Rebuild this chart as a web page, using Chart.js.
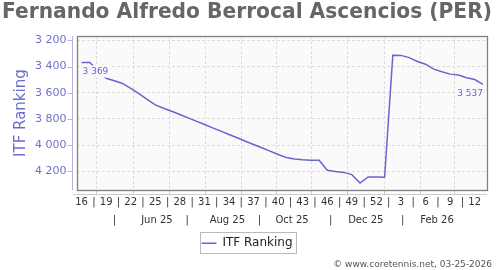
<!DOCTYPE html>
<html><head><meta charset="utf-8">
<script src="https://cdn.jsdelivr.net/npm/chart.js@4.4.1/dist/chart.umd.min.js"></script>
<style>html,body{margin:0;padding:0;background:#fff}</style>
</head><body>
<canvas id="c" width="500" height="270"></canvas>
<script>
// ---- data ----
const weeks = ['16','17','18','19','20','21','22','23','24','25','26','27','28','29','30','31','32','33','34','35','36','37','38','39','40','41','42','43','44','45','46','47','48','49','50','51','52','1','2','3','4','5','6','7','8','9','10','11','12','13'];
const ranking = [3369,3369,3435,3490,3508,3529,3566,3607,3650,3693,3718,3741,
  3766,3792,3817,3843,3868,3893,3919,3944,3970,3995,4020,4046,4071,
  4095,4105,4111,4115,4116,4192,4201,4208,4225,4290,4243,4244,4245,
  3314,3315,3332,3362,3382,3420,3440,3458,3465,3486,3499,3537];
const seriesName = 'ITF Ranking';
const yTicks = [3200,3400,3600,3800,4000,4200];
const weekTickIdx = [0,3,6,9,12,15,18,21,24,27,30,33,36,39,42,45,48];
const monthGridIdx = [1.81,6.30,10.71,15.08,19.49,23.75,28.13,32.46,36.94,41.35,45.51];
const monthLabels = ['Jun 25','Aug 25','Oct 25','Dec 25','Feb 26'];
const monthLabelIdx = [9.2,17.8,25.7,34.7,43.4];
const monthSepIdx = [4.0,12.9,21.7,30.4,39.2];
const titleText = 'Fernando Alfredo Berrocal Ascencios (PER)';
const creditText = '\u00A9 www.coretennis.net, 03-25-2026';

const FONT = "'DejaVu Sans', sans-serif";
const LINE = '#6666cc';
const fmt = v => { const s = String(Math.round(v)); return s.length > 3 ? s.slice(0, s.length-3) + ' ' + s.slice(-3) : s; };

const weekTicks = [];
weekTickIdx.forEach((v, k) => {
  weekTicks.push({value: v, label: weeks[v]});
  if (k < weekTickIdx.length - 1) weekTicks.push({value: v + 1.5, label: '|'});
});
const monthTicks = [];
monthSepIdx.forEach((v, k) => {
  monthTicks.push({value: v, label: '|'});
  monthTicks.push({value: monthLabelIdx[k], label: monthLabels[k]});
});

const XMIN = -0.5, XMAX = weeks.length - 0.5;

const decor = {
  id: 'decor',
  beforeDraw(chart) {
    const {ctx, chartArea: a} = chart;
    ctx.save();
    ctx.fillStyle = '#fafafa';
    ctx.fillRect(a.left, a.top, a.right - a.left, a.bottom - a.top);
    ctx.restore();
  },
  afterDatasetsDraw(chart) {
    const {ctx, chartArea: a, scales} = chart;
    const ys = scales.y;
    ctx.save();
    ctx.strokeStyle = '#808080';
    ctx.lineWidth = 1.3;
    ctx.strokeRect(Math.round(a.left) + 0.5, Math.round(a.top) + 0.5, Math.round(a.right - a.left), Math.round(a.bottom - a.top));
    ctx.strokeStyle = '#b4b4e4';
    ctx.lineWidth = 1;
    const ax = Math.round(a.left) - 4.5;
    ctx.beginPath(); ctx.moveTo(ax, a.top); ctx.lineTo(ax, a.bottom); ctx.stroke();
    yTicks.forEach(v => {
      const py = Math.round(ys.getPixelForValue(v)) + 0.5;
      ctx.beginPath(); ctx.moveTo(ax - 5, py); ctx.lineTo(ax, py); ctx.stroke();
    });
    ctx.strokeStyle = '#cccccc';
    const by = Math.round(a.bottom) + 4.5;
    ctx.beginPath(); ctx.moveTo(ax, by); ctx.lineTo(a.right, by); ctx.stroke();
    const pts = chart.getDatasetMeta(0).data;
    ctx.font = '9px ' + FONT;
    ctx.textBaseline = 'middle';
    const drawLbl = (p, v, align) => {
      const t = fmt(v);
      const w = ctx.measureText(t).width;
      const x0 = align === 'left' ? p.x + 1 : p.x - w;
      const yc = p.y + 9;
      ctx.fillStyle = '#fafafa';
      ctx.fillRect(x0 - 1, yc - 6, w + 2, 12);
      ctx.fillStyle = LINE;
      ctx.textAlign = 'left';
      ctx.fillText(t, x0, yc);
    };
    drawLbl(pts[0], ranking[0], 'left');
    drawLbl(pts[pts.length - 1], ranking[ranking.length - 1], 'right');
    ctx.restore();
  },
  afterDraw(chart) {
    const lg = chart.legend;
    const {ctx} = chart;
    if (lg && lg.legendHitBoxes && lg.legendHitBoxes.length) {
      const h = lg.legendHitBoxes[0];
      ctx.save();
      ctx.strokeStyle = '#bbbbbb';
      ctx.lineWidth = 1;
      ctx.strokeRect(Math.round(h.left) - 0.5, Math.round(h.top) - 4.5, Math.round(h.width) + 5, Math.round(h.height) + 9);
      ctx.restore();
    }
  }
};

new Chart(document.getElementById('c'), {
  type: 'line',
  data: {
    datasets: [{
      label: seriesName,
      data: ranking.map((v, i) => ({x: i, y: v})),
      borderColor: LINE,
      backgroundColor: LINE,
      borderWidth: 1.5,
      pointRadius: 0,
      tension: 0,
      xAxisID: 'x',
      yAxisID: 'y'
    }]
  },
  options: {
    responsive: false,
    animation: false,
    devicePixelRatio: 1,
    layout: {padding: {left: 2, right: 8, top: 0, bottom: 0}},
    scales: {
      y: {
        type: 'linear', reverse: true, min: 3167, max: 4344,
        afterBuildTicks: s => { s.ticks = yTicks.map(v => ({value: v})); },
        ticks: {color: '#7070cc', font: {family: FONT, size: 11}, padding: 11, callback: v => fmt(v)},
        grid: {color: '#dddddd', borderDash: [3, 2], drawTicks: false},
        border: {display: false, dash: [3, 2]},
        title: {display: true, text: seriesName, color: '#6b6bcc', font: {family: FONT, size: 15}, padding: {top: 10, bottom: -6}}
      },
      yr: {
        type: 'linear', position: 'right', display: true, reverse: true, min: 3167, max: 4344,
        ticks: {display: false}, grid: {display: false, drawTicks: false}, border: {display: false},
        afterFit: s => { s.width = 5; }
      },
      x: {
        type: 'linear', position: 'bottom', min: XMIN, max: XMAX, weight: 0,
        afterBuildTicks: s => { s.ticks = monthGridIdx.map(v => ({value: v})); },
        ticks: {display: false},
        grid: {color: '#dddddd', tickColor: '#cccccc', borderDash: [3, 2], tickBorderDash: [], drawTicks: true, tickLength: 5},
        border: {display: false, dash: [3, 2]}
      },
      xw: {
        type: 'linear', position: 'bottom', min: XMIN, max: XMAX, weight: 1,
        afterBuildTicks: s => { s.ticks = weekTicks.map(t => ({value: t.value})); },
        ticks: {autoSkip: false, maxRotation: 0, minRotation: 0, color: '#333333', font: {family: FONT, size: 10}, padding: 1,
          callback: (v, i) => weekTicks[i] ? weekTicks[i].label : ''},
        grid: {display: false, drawTicks: false},
        border: {display: false}
      },
      xm: {
        type: 'linear', position: 'bottom', min: XMIN, max: XMAX, weight: 2,
        afterBuildTicks: s => { s.ticks = monthTicks.map(t => ({value: t.value})); },
        ticks: {autoSkip: false, maxRotation: 0, minRotation: 0, color: '#333333', font: {family: FONT, size: 10}, padding: 5,
          callback: (v, i) => monthTicks[i] ? monthTicks[i].label : ''},
        grid: {display: false, drawTicks: false},
        border: {display: false}
      }
    },
    plugins: {
      title: {display: true, text: titleText, color: '#666666', font: {family: FONT, size: 21, weight: 'bold'}, padding: {top: 0, bottom: 10.8}},
      subtitle: {display: true, text: creditText, position: 'bottom', align: 'end', color: '#555555', font: {family: FONT, size: 9}, padding: {top: 0, bottom: 0}},
      legend: {display: true, position: 'bottom',
        labels: {usePointStyle: true, pointStyle: 'line', pointStyleWidth: 15, color: '#222222', font: {family: FONT, size: 12}, padding: 6}},
      tooltip: {enabled: false}
    }
  },
  plugins: [decor]
});
</script>
</body></html>
